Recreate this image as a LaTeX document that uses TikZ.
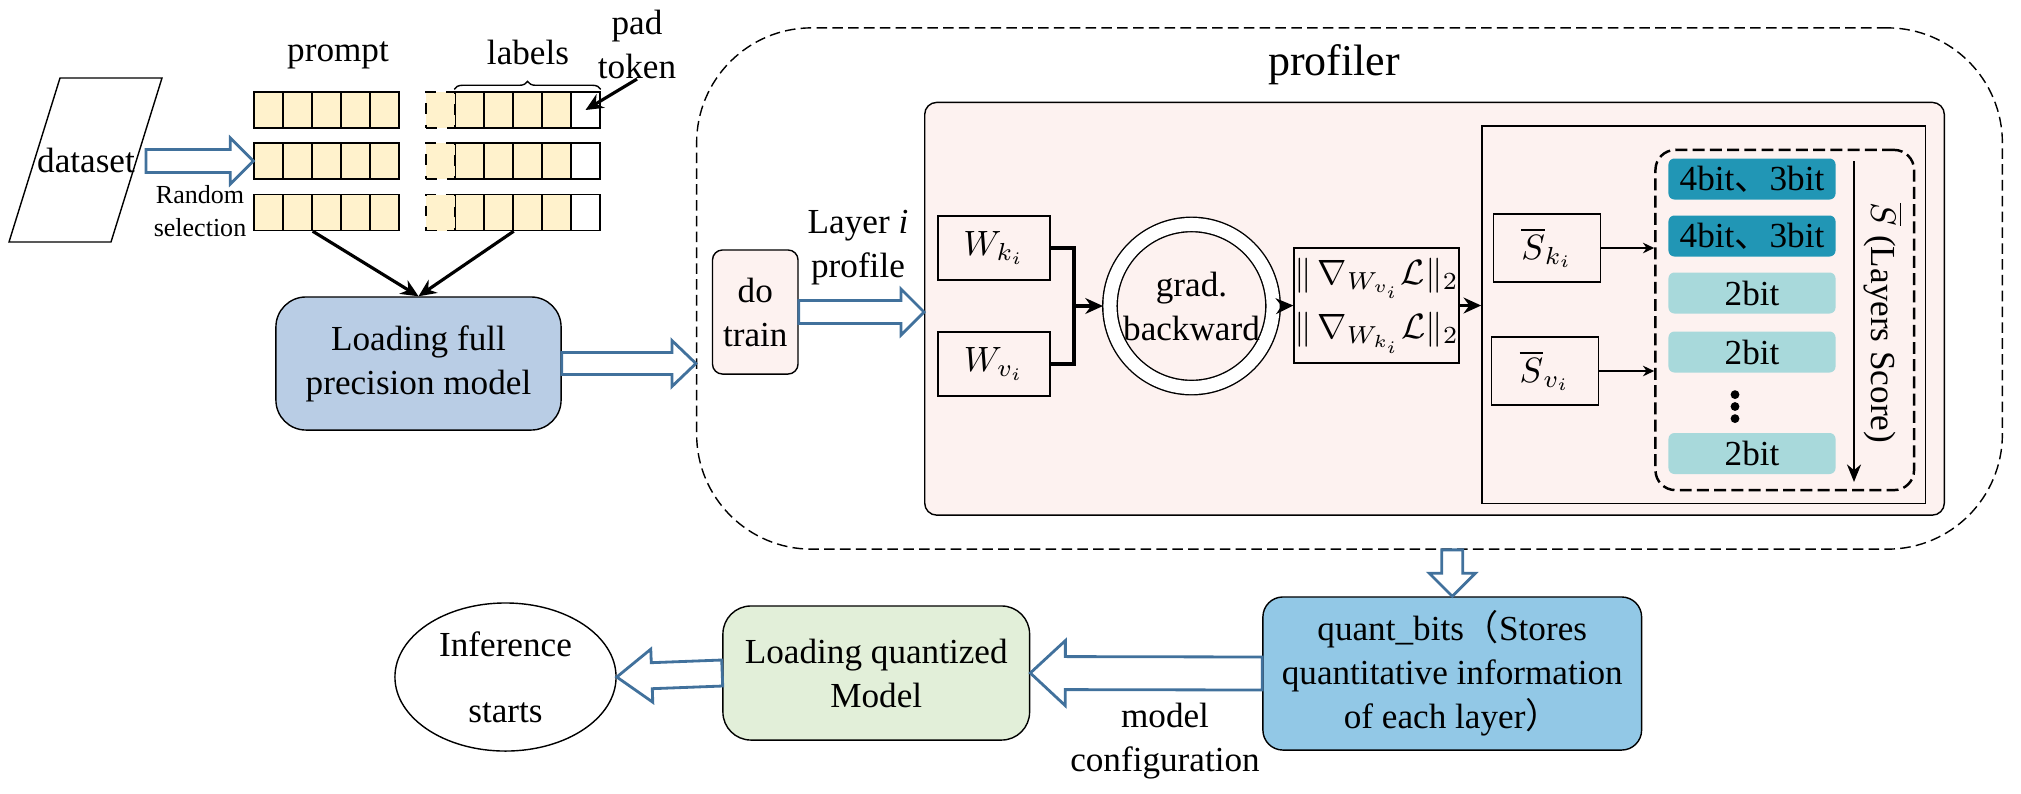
\documentclass[tikz,border=0pt]{standalone}
\usepackage{fontspec}
\setmainfont{Liberation Serif}
\newfontfamily\cjk{Noto Sans CJK SC}
\usetikzlibrary{calc,arrows.meta,decorations.pathreplacing,shapes.geometric}
\definecolor{tokenfill}{RGB}{255,242,204}
\definecolor{pinkfill}{RGB}{253,242,240}
\definecolor{loadblue}{RGB}{185,205,229}
\definecolor{loadgreen}{RGB}{226,239,217}
\definecolor{quantblue}{RGB}{146,200,230}
\definecolor{bitdark}{RGB}{33,150,181}
\definecolor{bitlight}{RGB}{168,217,219}
\definecolor{arrowblue}{RGB}{65,113,156}
\def\hollowarrow[#1](#2)(#3)(#4:#5:#6){\draw[#1] let \p1=($(#3)-(#2)$), \n1={veclen(\x1,\y1)}, \n2={atan2(\y1,\x1)} in [shift={(#2)},rotate=\n2] (0pt,-#4) -- ({\n1*1pt-#6},-#4) -- ({\n1*1pt-#6},-#5) -- ({\n1*1pt},0pt) -- ({\n1*1pt-#6},#5) -- ({\n1*1pt-#6},#4) -- (0pt,#4) -- cycle;}

\begin{document}
\begin{tikzpicture}[x=0.01cm, y=-0.01cm,
	every node/.style={font=\fontsize{10}{12.5}\selectfont, align=center, inner sep=0pt},
	box/.style={draw, line width=0.4pt},
	cell/.style={draw, line width=0.4pt, minimum width=0.29cm, minimum height=0.36cm},
	bit/.style={rounded corners=0.06cm, minimum width=1.67cm, minimum height=0.41cm},
	hollow/.style={draw=arrowblue, line width=0.8pt, fill=white},
	blk/.style={line width=0.9pt, -{Stealth[length=5pt,width=4.5pt]}},
	smallarrow/.style={line width=0.6pt, -{Stealth[length=3.2pt,width=3pt]}}]
			%%%%% START %%%%%
			\useasboundingbox (0,0) rectangle (2021,793);
			
			\draw[line width=0.4pt] (60,78) -- (162,78) -- (111,242) -- (9,242) -- cycle;
			\node (dataset) at (86,160) {dataset};
			\coordinate (dsout) at (146,161);
			
			\foreach \row/\ypos in {1/110,2/161,3/212.5}{
				\foreach \i in {0,...,4}
					\node[cell, fill=tokenfill] (p\row\i) at ({268.5+29*\i},\ypos) {};
				\foreach \i in {1,...,4}
					\node[cell, fill=tokenfill] (l\row\i) at ({440.5+29*\i},\ypos) {};
				\node[cell] (l\row5) at (585.5,\ypos) {};
				\node[cell, dashed, fill=tokenfill] (l\row0) at (440.5,\ypos) {};
			}
			\node (prompt) at (338,55) {prompt};
			\node (labels) at (528,52) {labels};
			\node (pad) at (637,44) {pad\\token};
			\draw[decorate, decoration={brace, amplitude=0.08cm, raise=0.02cm}, line width=0.4pt] (l11.north west) -- (l15.north east);
			\draw[blk] (pad.south) -- (l15.center);
			\node[font=\fontsize{7.4}{9.4}\selectfont] (rs) at (200,211.5) {Random\\selection};
			\hollowarrow[hollow](dsout)(p20.west)(0.115cm:0.23cm:0.23cm)
			
			\node[box, fill=loadblue, rounded corners=0.3cm, minimum width=2.85cm, minimum height=1.33cm] (load) at (418.5,363.5) {Loading full\\precision model};
			\draw[blk] (p31.south east) -- (load.north);
			\draw[blk] (l32.south east) -- (load.north);
			
			%%%%% profiler %%%%%
			\node[draw, line width=0.4pt, dash pattern=on 3pt off 1.5pt, rounded corners=1.15cm, minimum width=13.05cm, minimum height=5.21cm] (profiler) at (1349.5,288.5) {};
			\node[font=\fontsize{12.5}{15}\selectfont] (proftitle) at (1334,65) {profiler};
			\hollowarrow[hollow](load.east)(load.east -| profiler.west)(0.11cm:0.23cm:0.24cm)
			
			\node[box, fill=pinkfill, rounded corners=0.1cm, minimum width=0.855cm, minimum height=1.24cm] (dotrain) at (755.25,312) {do\\train};
			\node (layer) at (858,248) {Layer \textit{i}\\profile};
			\node[box, fill=pinkfill, rounded corners=0.12cm, minimum width=10.19cm, minimum height=4.125cm] (inner) at (1434.5,308.75) {};
			\hollowarrow[hollow](dotrain.east)(dotrain.east -| inner.west)(0.115cm:0.23cm:0.23cm)
			
			\node[box, minimum width=1.12cm, minimum height=0.64cm] (wk) at (994,248) {$W_{k_i}$};
			\node[box, minimum width=1.12cm, minimum height=0.64cm] (wv) at (994,364) {$W_{v_i}$};
			\coordinate (jn) at (1074,306);
			\node[draw, circle, double, double distance=0.13cm, line width=0.4pt, minimum size=1.63cm, outer sep=0.07cm] (grad) at (1191.5,306) {grad.\\backward};
			\draw[line width=0.9pt] (wk.east) -| (jn) |- (wv.east);
			\draw[blk] (jn) -- (grad.west);
			\node[box, minimum width=1.45cm, minimum height=1.15cm] (norm) at (1376.5,305.5) {$\|\,\nabla_{W_{v_i}}\mathcal{L}\|_2$\\[3pt]$\|\,\nabla_{W_{k_i}}\mathcal{L}\|_2$};
			\draw[blk] (grad.east) -- (norm.west);
			
			\node[box, minimum width=4.435cm, minimum height=3.775cm] (scores) at (1703.75,314.75) {};
			\draw[blk] (norm.east) -- (norm.east -| scores.west);
			\node[box, minimum width=1.07cm, minimum height=0.68cm] (sk) at (1547,248) {$\overline{S}_{k_i}$};
			\node[box, minimum width=1.07cm, minimum height=0.68cm] (sv) at (1545,371) {$\overline{S}_{v_i}$};
			\node[draw, line width=0.7pt, dash pattern=on 3.4pt off 1.5pt, rounded corners=0.2cm, minimum width=2.585cm, minimum height=3.4cm] (bits) at (1784.75,320) {};
			\draw[smallarrow] (sk.east) -- (sk.east -| bits.west);
			\draw[smallarrow] (sv.east) -- (sv.east -| bits.west);
			
			\node[bit, fill=bitdark] (b1) at (1752,179) {4bit{\cjk 、}3bit};
			\node[bit, fill=bitdark] (b2) at (1752,236) {4bit{\cjk 、}3bit};
			\node[bit, fill=bitlight] (b3) at (1752,293) {2bit};
			\node[bit, fill=bitlight] (b4) at (1752,352) {2bit};
			\foreach \d in {394.6,406.5,418.6}
				\fill (1735,\d) circle (0.044cm);
			\node[bit, fill=bitlight] (b5) at (1752,453.5) {2bit};
			
			\coordinate (lstop) at (1854,161);
			\coordinate (lsbot) at (1854,482);
			\draw[line width=0.6pt, -{Stealth[length=5pt,width=4pt]}] (lstop) -- (lsbot);
			\node[rotate=-90] (lscore) at (1883,323) {$\overline{S}$ (Layers Score)};
			
			%%%%% output %%%%%
			\node[box, fill=quantblue, rounded corners=0.2cm, minimum width=3.785cm, minimum height=1.53cm] (quant) at (1452.25,673.5) {quant\_bits{\cjk （}Stores\\quantitative information\\of each layer{\cjk ）}};
			\hollowarrow[hollow](quant.north |- profiler.south)(quant.north)(0.105cm:0.23cm:0.23cm)
			\node[box, fill=loadgreen, rounded corners=0.28cm, minimum width=3.065cm, minimum height=1.34cm] (lq) at (876.25,673) {Loading quantized\\Model};
			\hollowarrow[hollow](quant.west)(lq.east)(0.165cm:0.325cm:0.35cm)
			\node[box, ellipse, minimum width=2.21cm, minimum height=1.48cm] (infer) at (505.5,677) {Inference\\[6.3pt]starts};
			\hollowarrow[hollow](lq.west)(infer.east)(0.13cm:0.265cm:0.35cm)
			\node (modelcfg) at (1165,741.5) {model\\configuration};
			
			%%%%% END %%%%%
\end{tikzpicture}
\end{document}
